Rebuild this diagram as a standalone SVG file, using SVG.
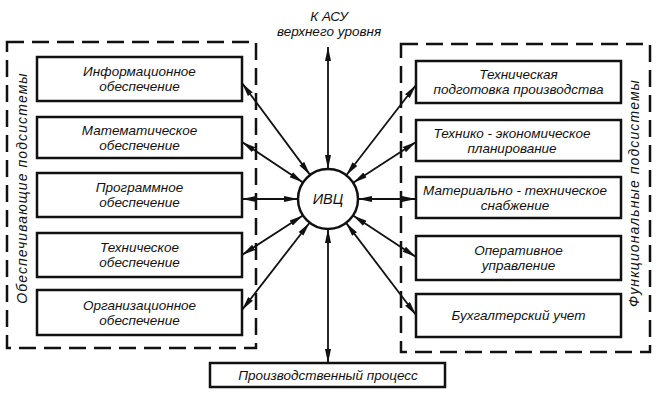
<svg xmlns="http://www.w3.org/2000/svg" width="666" height="400" viewBox="0 0 666 400">
<style>
text{font-family:"Liberation Sans","DejaVu Sans",sans-serif;font-style:italic;font-size:13.5px;fill:#111;text-anchor:middle}
.side{letter-spacing:1.1px;font-size:14px}
.box{fill:#fff;stroke:#111;stroke-width:2.5}
.grp{fill:none;stroke:#111;stroke-width:2.5;stroke-dasharray:17 8}
.c{fill:none;stroke:#111;stroke-width:1.8;marker-start:url(#ah);marker-end:url(#ah)}
</style>
<defs>
<marker id="ah" markerUnits="userSpaceOnUse" markerWidth="14" markerHeight="8" viewBox="0 0 14 8" refX="14" refY="4" orient="auto-start-reverse">
<path d="M0,1 L14,4 L0,7 Z" fill="#111"/>
</marker>
</defs>
<rect width="666" height="400" fill="#fff"/>
<g id="group-left">
<rect class="grp" x="7" y="42" width="249" height="306"/>
<text class="side" transform="translate(27,188) rotate(-90)">Обеспечивающие подсистемы</text>
</g>
<g id="group-right">
<rect class="grp" x="401" y="44" width="249" height="308"/>
<text class="side" transform="translate(639,193) rotate(-90)">Функциональные подсистемы</text>
</g>
<g id="connectors">
<line class="c" x1="242" y1="83" x2="310.1" y2="174.9"/>
<line class="c" x1="242" y1="142" x2="303" y2="182.4"/>
<line class="c" x1="242" y1="199" x2="298" y2="199"/>
<line class="c" x1="242" y1="255" x2="302.9" y2="215.4"/>
<line class="c" x1="242" y1="310" x2="309.6" y2="222.7"/>
<line class="c" x1="416" y1="85" x2="346.3" y2="175.2"/>
<line class="c" x1="416" y1="142" x2="353.2" y2="182.7"/>
<line class="c" x1="416" y1="199" x2="358" y2="199"/>
<line class="c" x1="416" y1="257" x2="353" y2="215.5"/>
<line class="c" x1="416" y1="315" x2="346.1" y2="222.9"/>
<line class="c" x1="328" y1="169" x2="328" y2="47"/>
<line class="c" x1="328" y1="229" x2="328" y2="363"/>
</g>
<g id="ivc">
<circle cx="328" cy="199" r="30" fill="#fff" stroke="#111" stroke-width="2.5"/>
<text x="328" y="204" style="font-size:14.5px">ИВЦ</text>
</g>
<g id="top-label">
<text x="329" y="21">К АСУ</text>
<text x="329" y="36">верхнего уровня</text>
</g>
<g id="info">
<rect class="box" x="37" y="57" width="205" height="44"/>
<text x="139.5" y="76">Информационное</text>
<text x="139.5" y="91">обеспечение</text>
</g>
<g id="math">
<rect class="box" x="37" y="117" width="205" height="41"/>
<text x="139.5" y="134.5">Математическое</text>
<text x="139.5" y="149.5">обеспечение</text>
</g>
<g id="prog">
<rect class="box" x="37" y="173" width="205" height="44"/>
<text x="139.5" y="192">Программное</text>
<text x="139.5" y="207">обеспечение</text>
</g>
<g id="tech">
<rect class="box" x="37" y="233" width="205" height="44"/>
<text x="139.5" y="252">Техническое</text>
<text x="139.5" y="267">обеспечение</text>
</g>
<g id="org">
<rect class="box" x="37" y="290" width="205" height="45"/>
<text x="139.5" y="309.5">Организационное</text>
<text x="139.5" y="324.5">обеспечение</text>
</g>
<g id="tpp">
<rect class="box" x="416" y="61" width="205" height="42"/>
<text x="518.5" y="79">Техническая</text>
<text x="518.5" y="94">подготовка производства</text>
</g>
<g id="tep">
<rect class="box" x="416" y="120" width="205" height="41"/>
<text x="512" y="137.5">Технико - экономическое</text>
<text x="512" y="152.5">планирование</text>
</g>
<g id="mts">
<rect class="box" x="416" y="177" width="205" height="41"/>
<text x="515" y="194.5">Материально - техническое</text>
<text x="515" y="209.5">снабжение</text>
</g>
<g id="oper">
<rect class="box" x="416" y="236" width="205" height="44"/>
<text x="518.5" y="255">Оперативное</text>
<text x="518.5" y="270">управление</text>
</g>
<g id="buh">
<rect class="box" x="416" y="294" width="205" height="43"/>
<text x="518.5" y="320">Бухгалтерский учет</text>
</g>
<g id="proc">
<rect class="box" x="210" y="363" width="235" height="24"/>
<text x="328" y="380">Производственный процесс</text>
</g>
</svg>
